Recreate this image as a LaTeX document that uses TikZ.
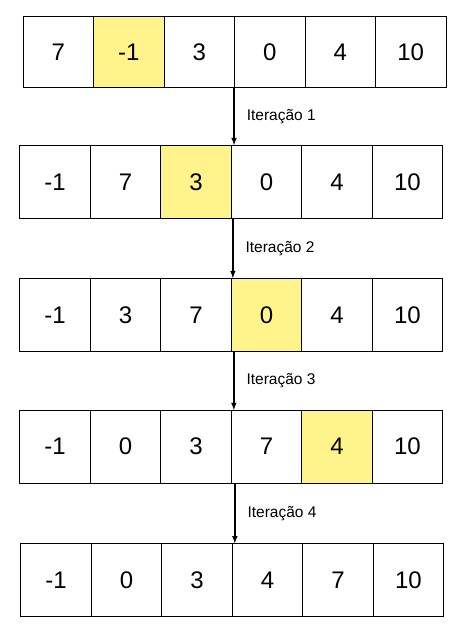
\documentclass[tikz,border=0pt]{standalone}
\usepackage{fontspec}
\setmainfont{Liberation Sans}
\usetikzlibrary{positioning}
\definecolor{marca}{RGB}{255,244,140}

\begin{document}
\begin{tikzpicture}[x=1pt, y=-1pt, auto, on grid, node distance=70.5pt,
    cel/.style={draw, line width=0.8pt, minimum width=70.5pt, minimum height=72.5pt, inner sep=0pt, font=\fontsize{24}{24}\selectfont},
    atual/.style={cel, fill=marca},
    seta/.style={-latex, line width=1.5pt},
    rot/.style={font=\fontsize{15.5}{16}\selectfont, inner sep=0pt, xshift=12pt}]
            \useasboundingbox (0,0) rectangle (470,630);

            \node[cel, minimum height=71pt] (a1) at (58.2,52.2) {7};
            \node[atual, minimum height=71pt, right=of a1] (a2) {-1};
            \node[cel, minimum height=71pt, right=of a2] (a3) {3};
            \node[cel, minimum height=71pt, right=of a3] (a4) {0};
            \node[cel, minimum height=71pt, right=of a4] (a5) {4};
            \node[cel, minimum height=71pt, right=of a5] (a6) {10};

            \node[cel] (b1) at (55,181.8) {-1};
            \node[cel, right=of b1] (b2) {7};
            \node[atual, right=of b2] (b3) {3};
            \node[cel, right=of b3] (b4) {0};
            \node[cel, right=of b4] (b5) {4};
            \node[cel, right=of b5] (b6) {10};

            \node[cel] (c1) at (55,314.8) {-1};
            \node[cel, right=of c1] (c2) {3};
            \node[cel, right=of c2] (c3) {7};
            \node[atual, right=of c3] (c4) {0};
            \node[cel, right=of c4] (c5) {4};
            \node[cel, right=of c5] (c6) {10};

            \node[cel] (d1) at (55,446.7) {-1};
            \node[cel, right=of d1] (d2) {0};
            \node[cel, right=of d2] (d3) {3};
            \node[cel, right=of d3] (d4) {7};
            \node[atual, right=of d4] (d5) {4};
            \node[cel, right=of d5] (d6) {10};

            \node[cel] (e1) at (56,580) {-1};
            \node[cel, right=of e1] (e2) {0};
            \node[cel, right=of e2] (e3) {3};
            \node[cel, right=of e3] (e4) {4};
            \node[cel, right=of e4] (e5) {7};
            \node[cel, right=of e5] (e6) {10};

            \path[seta] (a4.south west) edge node[rot] {Iteração 1} (a4.south west |- b4.north);
            \path[seta] ([xshift=2pt]b4.south west) edge node[rot] {Iteração 2} ([xshift=2pt]b4.south west |- c4.north);
            \path[seta] ([xshift=3pt]c4.south west) edge node[rot] {Iteração 3} ([xshift=3pt]c4.south west |- d4.north);
            \path[seta] ([xshift=4pt]d4.south west) edge node[rot] {Iteração 4} ([xshift=4pt]d4.south west |- e4.north);
        \end{tikzpicture}
\end{document}
